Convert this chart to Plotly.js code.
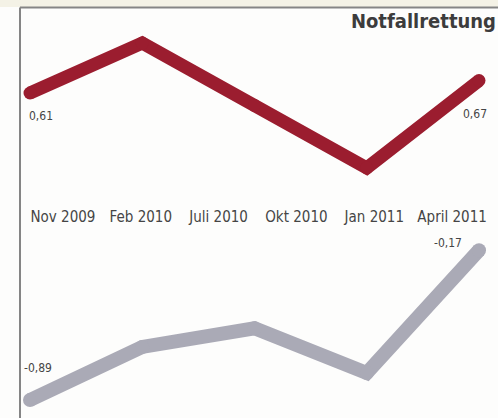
<!DOCTYPE html>
<html>
<head>
<meta charset="utf-8">
<script src="https://cdn.plot.ly/plotly-3.0.1.min.js"></script>
<style>html,body{margin:0;padding:0;background:#fdfdfc;}#chart{width:498px;height:418px;}</style>
</head>
<body>
<div id="chart"></div>
<script>
// Data
const periodLabels = ["Nov 2009", "Feb 2010", "Juli 2010", "Okt 2010", "Jan 2011", "April 2011"];
const pointIndex = [0, 1, 2, 3, 4];
const redValues = [0.61, 0.85, 0.55, 0.25, 0.67];
const grayValues = [-0.89, -0.635, -0.545, -0.76, -0.17];
const chartTitle = "Notfallrettung";

const W = 498, H = 418;
const fmt = v => v.toFixed(2).replace('.', ',');
const RED = '#9b1d2f', GRAY = '#aaaab6', TXT = '#454545';
const condensed = '"DejaVu Sans Condensed", "DejaVu Sans", sans-serif';

const traces = [
  {x: pointIndex, y: redValues, xaxis: 'x', yaxis: 'y', mode: 'lines+markers',
   line: {color: RED, width: 13}, marker: {color: RED, size: 13}, hoverinfo: 'skip'},
  {x: pointIndex, y: grayValues, xaxis: 'x2', yaxis: 'y2', mode: 'lines+markers',
   line: {color: GRAY, width: 14}, marker: {color: GRAY, size: 14}, hoverinfo: 'skip'},
  {x: periodLabels, y: periodLabels.map(() => 0), xaxis: 'x3', yaxis: 'y3', mode: 'markers',
   marker: {opacity: 0}, hoverinfo: 'skip'}
];

const pxPerUnitX = 449 / 4;
const xr = [-30 / pxPerUnitX, 4 + 19 / pxPerUnitX];
const pxPerUnitY = 208;

const n = redValues.length - 1;
const annotations = [
  {x: 0, y: redValues[0], xref: 'x', yref: 'y', text: fmt(redValues[0]), showarrow: false,
   xanchor: 'left', xshift: -3, yshift: -23},
  {x: n, y: redValues[n], xref: 'x', yref: 'y', text: fmt(redValues[n]), showarrow: false,
   xanchor: 'right', xshift: 10, yshift: -33},
  {x: 0, y: grayValues[0], xref: 'x2', yref: 'y2', text: fmt(grayValues[0]), showarrow: false,
   xanchor: 'left', xshift: -8, yshift: 32},
  {x: n, y: grayValues[n], xref: 'x2', yref: 'y2', text: fmt(grayValues[n]), showarrow: false,
   xanchor: 'right', xshift: -15, yshift: 7}
].map(a => Object.assign(a, {font: {family: condensed, size: 12, color: TXT}}));

const hidden = {showgrid: false, zeroline: false, showticklabels: false, showline: false, ticks: ''};

const layout = {
  width: W, height: H,
  margin: {l: 0, r: 0, t: 0, b: 0},
  paper_bgcolor: '#fdfdfc', plot_bgcolor: 'rgba(0,0,0,0)',
  showlegend: false,
  title: {text: chartTitle, x: 496 / W, xanchor: 'right', xref: 'paper',
          y: 1 - 21 / H, yanchor: 'middle', yref: 'container',
          font: {family: condensed, size: 20, weight: 'bold', color: '#3c3c3c'}},
  xaxis: Object.assign({range: xr, domain: [0, 1], anchor: 'y'}, hidden),
  yaxis: Object.assign({domain: [1 - 200 / H, 1], anchor: 'x',
    range: [0.61 - 107 / pxPerUnitY, 0.61 + 93 / pxPerUnitY]}, hidden),
  xaxis2: Object.assign({range: xr, domain: [0, 1], anchor: 'y2'}, hidden),
  yaxis2: Object.assign({domain: [0, 193 / H], anchor: 'x2',
    range: [-0.89 - 18 / pxPerUnitY, -0.89 + 175 / pxPerUnitY]}, hidden),
  xaxis3: {domain: [24 / W, 491 / W], anchor: 'y3', type: 'category',
    range: [-0.5, periodLabels.length - 0.5], showgrid: false, zeroline: false, showline: false,
    ticks: '', tickfont: {family: condensed, size: 15, color: TXT}, fixedrange: true},
  yaxis3: Object.assign({domain: [1 - 206 / H, 1 - 204 / H], anchor: 'x3', range: [-1, 1]}, hidden),
  annotations: annotations,
  shapes: [
    {type: 'rect', xref: 'paper', yref: 'paper', x0: 0, x1: 1, y0: 1 - 7 / H, y1: 1,
     fillcolor: '#f4f2e6', line: {width: 0}, layer: 'below'},
    {type: 'line', xref: 'paper', yref: 'paper', x0: 20 / W, x1: 1, y0: 1 - 7.5 / H, y1: 1 - 7.5 / H,
     line: {color: '#858585', width: 2}, layer: 'below'},
    {type: 'line', xref: 'paper', yref: 'paper', x0: 20 / W, x1: 20 / W, y0: 0, y1: 1 - 7.5 / H,
     line: {color: '#858585', width: 2}, layer: 'below'}
  ]
};

Plotly.newPlot('chart', traces, layout, {staticPlot: true, displayModeBar: false});
</script>
</body>
</html>
